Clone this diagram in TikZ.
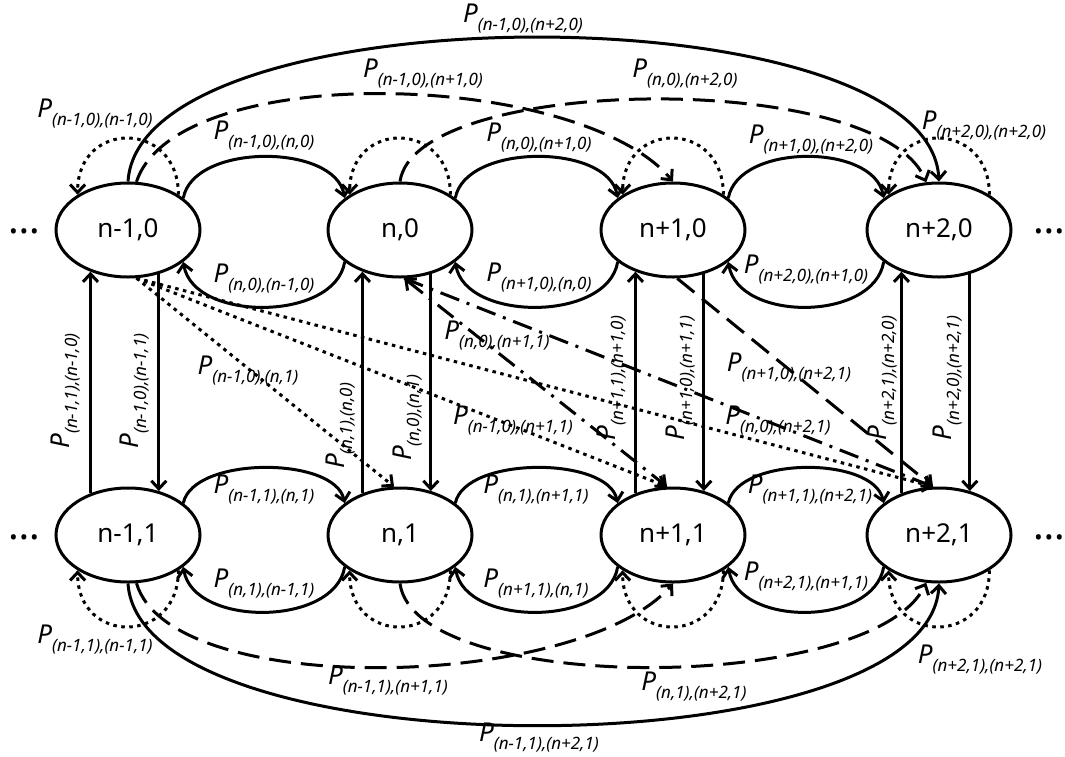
\documentclass[tikz,border=0pt]{standalone}
\usepackage{fontspec}
\setmainfont{Noto Sans}
\usetikzlibrary{arrows.meta,shapes.geometric}
\newcommand\lbl[1]{{\fontsize{26}{26}\selectfont\itshape P}\raisebox{-8pt}{\fontsize{17}{17}\selectfont\itshape #1}}
\begin{document}
\begin{tikzpicture}[x=1pt,y=-1pt,
  st/.style={ellipse,draw,line width=3pt,minimum width=144pt,minimum height=94pt,inner sep=0pt,font=\fontsize{26}{26}\selectfont},
  ed/.style={line width=3pt,-{Straight Barb[length=8pt,width=15pt]}},
  dt/.style={ed,dash pattern=on 3.5pt off 4.5pt},
  ds/.style={ed,dash pattern=on 22pt off 10pt},
  dd/.style={ed,dash pattern=on 20pt off 8pt on 3pt off 8pt},
  lb/.style={inner sep=0pt},
  vl/.style={inner sep=0pt,rotate=90},
  dts/.style={inner sep=0pt,font=\fontsize{40}{40}\selectfont}]
\fill[white] (0,0) rectangle (1065,756);
\useasboundingbox (0,0) rectangle (1065,756);
% states
\node[st] (A0) at (128,230) {n-1,0};
\node[st] (B0) at (400,230) {n,0};
\node[st] (C0) at (673,230) {n+1,0};
\node[st] (D0) at (939,230) {n+2,0};
\node[st] (A1) at (128,535) {n-1,1};
\node[st] (B1) at (400,535) {n,1};
\node[st] (C1) at (673,535) {n+1,1};
\node[st] (D1) at (939,535) {n+2,1};
\node[dts] (l0) at (24,231) {…};
\node[dts] (r0) at (1049,231) {…};
\node[dts] (l1) at (24,537) {…};
\node[dts] (r1) at (1049,537) {…};
% self loops
\foreach \n in {A0,B0,C0,D0}{
  \draw[dt] (\n.35) .. controls +(0,-75) and +(0,-75) .. (\n.145);}
\foreach \n in {A1,B1,C1,D1}{
  \draw[dt] (\n.325) .. controls +(0,75) and +(0,75) .. (\n.215);}
% neighbour arcs
\foreach \a/\b in {A0/B0,B0/C0,C0/D0}{
  \draw[ed] (\a.30) .. controls +(10,-55) and +(-10,-55) .. (\b.150);
  \draw[ed] (\b.210) .. controls +(-10,60) and +(10,60) .. (\a.330);}
\foreach \a/\b in {A1/B1,B1/C1,C1/D1}{
  \draw[ed] (\a.30) .. controls +(10,-47) and +(-10,-47) .. (\b.150);
  \draw[ed] (\b.210) .. controls +(-10,60) and +(10,60) .. (\a.330);}
% vertical
\foreach \a/\b in {A0/A1,B0/B1,C0/C1,D0/D1}{
  \draw[ed] (\b.132) -- (\a.228);
  \draw[ed] (\a.305) -- (\b.55);}
% long arcs top
\draw[ed] (A0.north) .. controls +(12,-192) and +(-10,-192) .. (D0.north);
\draw[ds] (A0.80) .. controls +(40,-122) and +(-95,-112) .. (C0.north);
\draw[ds] (B0.north) .. controls +(15,-107) and +(-47,-113) .. (D0.105);
% long arcs bottom
\draw[ed] (A1.south) .. controls +(12,189) and +(-10,189) .. (D1.south);
\draw[ds] (A1.280) .. controls +(34,117) and +(-94,107) .. (C1.south);
\draw[ds] (B1.south) .. controls +(15,112) and +(-54,112) .. (D1.255);
% diagonals
\draw[dt] (A0.280) -- (B1.97);
\draw[dt] (A0.280) -- (C1.97);
\draw[dt] (A0.280) -- (D1.97);
\draw[dd,{Straight Barb[length=8pt,width=15pt]}-{Straight Barb[length=8pt,width=15pt]}] (B0.275) -- (C1.97);
\draw[dd] (B0.275) -- (D1.97);
\draw[ds] (C0.275) -- (D1.97);
% labels
\node[lb] at (523,19) {\lbl{(n-1,0),(n+2,0)}};
\node[lb] at (423,74) {\lbl{(n-1,0),(n+1,0)}};
\node[lb] at (95,114) {\lbl{(n-1,0),(n-1,0)}};
\node[lb] at (264,136) {\lbl{(n-1,0),(n,0)}};
\node[lb] at (539,138) {\lbl{(n,0),(n+1,0)}};
\node[lb] at (685,74) {\lbl{(n,0),(n+2,0)}};
\node[lb] at (811,140) {\lbl{(n+1,0),(n+2,0)}};
\node[lb] at (984,126) {\lbl{(n+2,0),(n+2,0)}};
\node[lb] at (264,279) {\lbl{(n,0),(n-1,0)}};
\node[lb] at (539,278) {\lbl{(n+1,0),(n,0)}};
\node[lb] at (806,270) {\lbl{(n+2,0),(n+1,0)}};
\node[lb] at (264,490) {\lbl{(n-1,1),(n,1)}};
\node[lb] at (536,490) {\lbl{(n,1),(n+1,1)}};
\node[lb] at (810,490) {\lbl{(n+1,1),(n+2,1)}};
\node[lb] at (264,584) {\lbl{(n,1),(n-1,1)}};
\node[lb] at (536,584) {\lbl{(n+1,1),(n,1)}};
\node[lb] at (806,577) {\lbl{(n+2,1),(n+1,1)}};
\node[lb] at (95,640) {\lbl{(n-1,1),(n-1,1)}};
\node[lb] at (388,681) {\lbl{(n-1,1),(n+1,1)}};
\node[lb] at (694,687) {\lbl{(n,1),(n+2,1)}};
\node[lb] at (980,660) {\lbl{(n+2,1),(n+2,1)}};
\node[lb] at (539,738) {\lbl{(n-1,1),(n+2,1)}};
\node[lb] at (248,371) {\lbl{(n-1,0),(n,1)}};
\node[lb] at (497,336) {\lbl{(n,0),(n+1,1)}};
\node[lb] at (513,421) {\lbl{(n-1,0),(n+1,1)}};
\node[lb] at (789,368) {\lbl{(n+1,0),(n+2,1)}};
\node[lb] at (778,421) {\lbl{(n,0),(n+2,1)}};
\node[vl] at (66,391) {\lbl{(n-1,1),(n-1,0)}};
\node[vl] at (135,391) {\lbl{(n-1,0),(n-1,1)}};
\node[vl] at (341,426) {\lbl{(n,1),(n,0)}};
\node[vl] at (408,418) {\lbl{(n,0),(n,1)}};
\node[vl] at (612,378) {\lbl{(n+1,1),(n+1,0)}};
\node[vl] at (681,378) {\lbl{(n+1,0),(n+1,1)}};
\node[vl] at (883,378) {\lbl{(n+2,1),(n+2,0)}};
\node[vl] at (948,378) {\lbl{(n+2,0),(n+2,1)}};
\end{tikzpicture}
\end{document}
